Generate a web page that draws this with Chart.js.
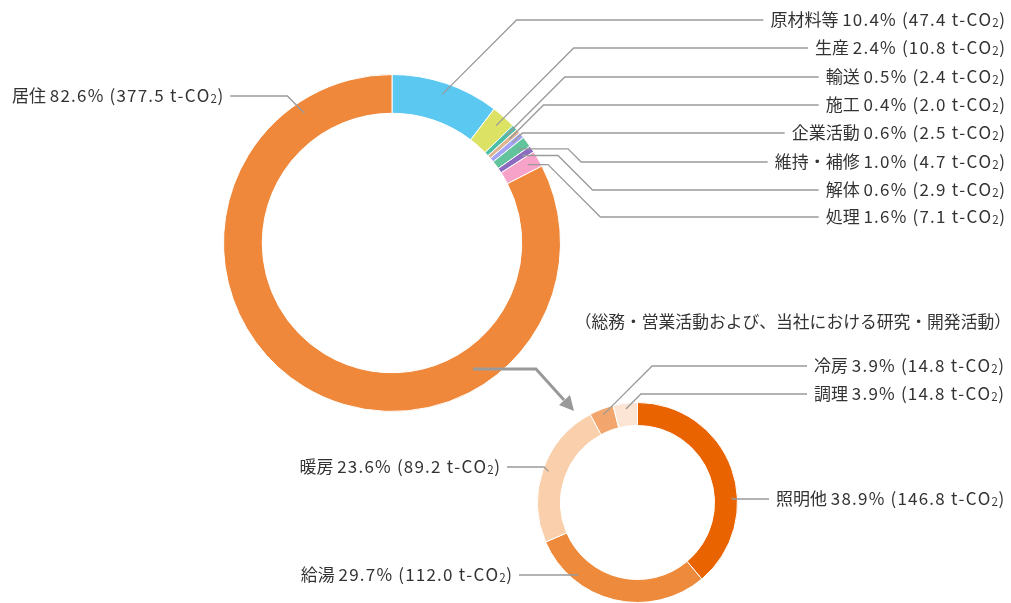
<!DOCTYPE html>
<html>
<head>
<meta charset="utf-8">
<script src="https://cdn.jsdelivr.net/npm/chart.js@4/dist/chart.umd.min.js"></script>
<style>
html,body{margin:0;padding:0;background:#fff;}
#wrap{position:relative;width:1011px;height:603px;}
canvas{position:absolute;left:0;top:0;}
</style>
</head>
<body>
<div id="wrap">
  <canvas id="bigChart" width="1011" height="603"></canvas>
  <canvas id="smallChart" width="1011" height="603"></canvas>
</div>
<script>
// --- DATA ---
const bigLabels = ["原材料等","生産","輸送","施工","企業活動","維持・補修","解体","処理","居住"];
const bigValues = [47.4, 10.8, 2.4, 2.0, 2.5, 4.7, 2.9, 7.1, 377.5];
const bigPercents = [10.4, 2.4, 0.5, 0.4, 0.6, 1.0, 0.6, 1.6, 82.6];

const smallLabels = ["照明他","給湯","暖房","冷房","調理"];
const smallValues = [146.8, 112.0, 89.2, 14.8, 14.8];
const smallPercents = [38.9, 29.7, 23.6, 3.9, 3.9];

const subTitle = "（総務・営業活動および、当社における研究・開発活動）";

// --- STYLE ---
const bigColors = ["#5bc8f1","#dce264","#4dbfa6","#dfb58f","#a4a4f4","#62c39d","#8c6cc1","#f7a3c9","#ef883b"];
const smallColors = ["#e96301","#ee8a3b","#f9d0ab","#f2a66d","#fce5d5"];
const FONT = '"Noto Sans CJK JP", sans-serif';
const TEXT = "#333";
const LINE = "#9a9a9a";
const FS = 17;

// label placement (layout only)
const bigPlace = [
  {align:"right", x:1005, y:20},
  {align:"right", x:1005, y:48},
  {align:"right", x:1005, y:77},
  {align:"right", x:1005, y:105},
  {align:"right", x:1005, y:133},
  {align:"right", x:1005, y:162, elbow:568},
  {align:"right", x:1005, y:190, elbow:558},
  {align:"right", x:1005, y:217, elbow:548},
  {align:"left", x:12, y:96, angle:326}
];
const smallPlace = [
  {align:"left", x:776, y:499, angle:87},
  {align:"right", x:512, y:575, angle:219},
  {align:"right", x:500, y:467},
  {align:"right", x:1004, y:366},
  {align:"right", x:1004, y:394}
];

// text drawn piece by piece so the figures get a little extra spacing
function runs(name, pct, val){
  return [
    {t:name + " ", size:FS, sp:0, dy:0},
    {t:`${pct.toFixed(1)}% (${val.toFixed(1)} t-CO`, size:FS, sp:1.2, dy:0},
    {t:"2", size:FS*0.68, sp:0.6, dy:3},
    {t:")", size:FS, sp:0, dy:0}
  ];
}
function runWidth(ctx, r){
  ctx.font = `${r.size}px ${FONT}`;
  let w = 0;
  for (const ch of r.t) w += ctx.measureText(ch).width + r.sp;
  return w;
}
function drawLabel(ctx, x, y, name, pct, val, align){
  const rs = runs(name, pct, val);
  const total = rs.reduce((s, r) => s + runWidth(ctx, r), 0);
  let cx = align === "right" ? x - total : x;
  const x0 = cx;
  ctx.fillStyle = TEXT;
  ctx.textBaseline = "middle";
  ctx.textAlign = "left";
  rs.forEach(r => {
    ctx.font = `${r.size}px ${FONT}`;
    for (const ch of r.t){
      ctx.fillText(ch, cx, y + r.dy);
      cx += ctx.measureText(ch).width + r.sp;
    }
  });
  return {left:x0, right:x0 + total};
}

function leaderPlugin(labels, values, percents, place, frac){
  return {
    id: "leaders",
    afterDraw(chart){
      const ctx = chart.ctx;
      const arcs = chart.getDatasetMeta(0).data;
      ctx.save();
      arcs.forEach((arc, i) => {
        const p = arc.getProps(["x","y","startAngle","endAngle","innerRadius","outerRadius"], true);
        const pl = place[i];
        const ang = pl.angle !== undefined ? pl.angle*Math.PI/180 - Math.PI/2 : (p.startAngle + p.endAngle)/2;
        const r = p.innerRadius + frac*(p.outerRadius - p.innerRadius);
        const sx = p.x + r*Math.cos(ang), sy = p.y + r*Math.sin(ang);
        const box = drawLabel(ctx, pl.x, pl.y, labels[i], percents[i], values[i], pl.align);
        const goRight = sx < box.left;
        const ex = goRight ? box.left - 7 : box.right + 7;
        const dir = goRight ? 1 : -1;
        const dy = pl.y - sy;
        ctx.beginPath();
        ctx.moveTo(sx, sy);
        if (dy > 2 && pl.elbow !== undefined){
          ctx.lineTo(pl.elbow, sy);
          ctx.lineTo(pl.elbow + dir*dy, pl.y);
        } else if (Math.abs(dy) > 0.5){
          ctx.lineTo(sx + dir*Math.abs(dy), pl.y);
        }
        ctx.lineTo(ex, pl.y);
        ctx.strokeStyle = LINE;
        ctx.lineWidth = 1.3;
        ctx.stroke();
      });
      ctx.restore();
    }
  };
}

// arrow from big ring to small ring, and subtitle
const extrasPlugin = {
  id: "extras",
  afterDraw(chart){
    const ctx = chart.ctx;
    ctx.save();
    ctx.strokeStyle = "#999";
    ctx.fillStyle = "#999";
    ctx.lineWidth = 3;
    ctx.beginPath();
    ctx.moveTo(473, 369);
    ctx.lineTo(536, 369);
    ctx.lineTo(564, 400);
    ctx.stroke();
    ctx.beginPath();
    ctx.moveTo(574, 411);
    ctx.lineTo(559, 405);
    ctx.lineTo(570, 395);
    ctx.closePath();
    ctx.fill();
    ctx.font = `16.8px ${FONT}`;
    ctx.fillStyle = TEXT;
    ctx.textAlign = "right";
    ctx.textBaseline = "middle";
    ctx.fillText(subTitle, 1011, 322);
    ctx.restore();
  }
};

function makeOptions(pad){
  return {
    responsive:false,
    animation:false,
    events:[],
    cutout:"77%",
    layout:{padding:pad},
    plugins:{legend:{display:false}, tooltip:{enabled:false}}
  };
}

new Chart(document.getElementById("bigChart"), {
  type:"doughnut",
  data:{labels:bigLabels, datasets:[{data:bigValues, backgroundColor:bigColors, borderColor:"#fff", borderWidth:1}]},
  options:makeOptions({left:223, right:450, top:74, bottom:191}),
  plugins:[leaderPlugin(bigLabels, bigValues, bigPercents, bigPlace, 0.7), extrasPlugin]
});

new Chart(document.getElementById("smallChart"), {
  type:"doughnut",
  data:{labels:smallLabels, datasets:[{data:smallValues, backgroundColor:smallColors, borderColor:"#fff", borderWidth:1}]},
  options:makeOptions({left:537, right:273, top:402, bottom:0}),
  plugins:[leaderPlugin(smallLabels, smallValues, smallPercents, smallPlace, 0.75)]
});
</script>
</body>
</html>
